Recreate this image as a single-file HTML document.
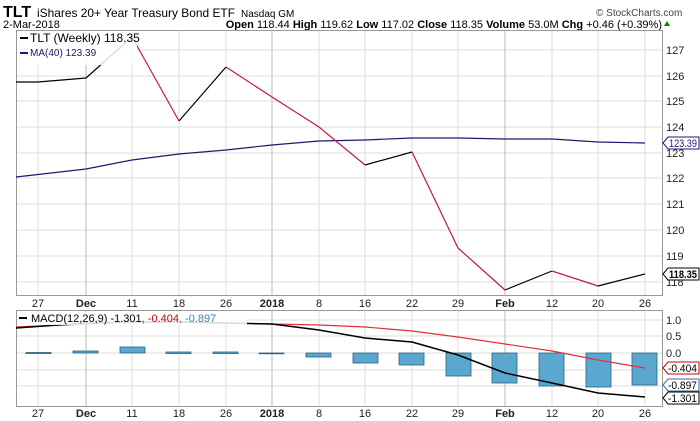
<!DOCTYPE html><html><head><style>body{margin:0;background:#fff}svg{display:block;font-family:"Liberation Sans",sans-serif}</style></head><body>
<svg width="700" height="421" viewBox="0 0 700 421" xmlns="http://www.w3.org/2000/svg">
<text x="3" y="17" font-size="16" font-weight="bold">TLT</text>
<text x="37" y="17" font-size="12" textLength="198" lengthAdjust="spacingAndGlyphs">iShares 20+ Year Treasury Bond ETF</text>
<text x="241" y="17" font-size="10">Nasdaq GM</text>
<text x="596" y="16" font-size="10" fill="#444">© StockCharts.com</text>
<text x="3" y="28" font-size="11">2-Mar-2018</text>
<text x="662" y="28" font-size="11" text-anchor="end"><tspan font-weight="bold">Open</tspan> 118.44 <tspan font-weight="bold">High</tspan> 119.62 <tspan font-weight="bold">Low</tspan> 117.02 <tspan font-weight="bold">Close</tspan> 118.35 <tspan font-weight="bold">Volume</tspan> 53.0M <tspan font-weight="bold">Chg</tspan> +0.46 (+0.39%)</text>
<path d="M664 26 l3 -5 l3 5z" fill="#080"/>
<g stroke="#ddd" stroke-width="1">
<path d="M38 31V296M86 31V296M132 31V296M179 31V296M226 31V296M272 31V296M319 31V296M365 31V296M412 31V296M458 31V296M505 31V296M552 31V296M598 31V296M645 31V296"/>
<path d="M16 50H663M16 76H663M16 101H663M16 127H663M16 153H663M16 178H663M16 204H663M16 230H663M16 256H663M16 282H663"/>
<path d="M38 311V406M86 311V406M132 311V406M179 311V406M226 311V406M272 311V406M319 311V406M365 311V406M412 311V406M458 311V406M505 311V406M552 311V406M598 311V406M645 311V406"/>
<path d="M16 320H663M16 336H663M16 353H663M16 370H663M16 386H663"/>
</g>
<path d="M86 31V296M272 31V296M505 31V296M86 311V406M272 311V406M505 311V406" stroke="#bbb"/>
<rect x="16.5" y="30.5" width="646" height="265" fill="none" stroke="#999"/>
<rect x="16.5" y="310.5" width="646" height="96" fill="none" stroke="#999"/>
<g font-size="11" fill="#222">
<text x="666" y="54">127</text><text x="666" y="80">126</text><text x="666" y="105">125</text><text x="666" y="131">124</text><text x="666" y="157">123</text><text x="666" y="182">122</text><text x="666" y="208">121</text><text x="666" y="234">120</text><text x="666" y="260">119</text><text x="666" y="286">118</text>
<text x="666" y="324">1.0</text><text x="666" y="340">0.5</text><text x="666" y="357">0.0</text>
</g>
<polyline points="16,177 86,169 132,160 179,154 226,150 272,145 319,141 365,140 412,138 458,138 505,139 552,139 598,142 645,143" fill="none" stroke="#1a1a6e" stroke-width="1.2"/>
<g fill="none" stroke-width="1.2">
<path d="M16 82L38 82L86 78L132 37" stroke="#000"/>
<path d="M132 37L179 121" stroke="#c8193c"/>
<path d="M179 121L226 67" stroke="#000"/>
<path d="M226 67L272 97L319 127L365 165" stroke="#c8193c"/>
<path d="M365 165L412 152" stroke="#000"/>
<path d="M412 152L458 248L505 290" stroke="#c8193c"/>
<path d="M505 290L552 271" stroke="#000"/>
<path d="M552 271L598 286" stroke="#c8193c"/>
<path d="M598 286L645 274" stroke="#000"/>
</g>
<rect x="17" y="31" width="120" height="34" fill="#fff" fill-opacity="0.85"/>
<path d="M20 38h8" stroke="#000" stroke-width="2"/><text x="30" y="42" font-size="12">TLT (Weekly) 118.35</text>
<path d="M20 53h8" stroke="#1a1a6e" stroke-width="2"/><text x="30" y="56" font-size="10" fill="#1a1a6e">MA(40) 123.39</text>
<path d="M663 143l5 -6h31v12h-31z" fill="#fff" stroke="#1a1a6e"/><text x="669" y="147" font-size="11" fill="#1a1a6e" textLength="28" lengthAdjust="spacingAndGlyphs">123.39</text>
<path d="M663 274l5 -6h31v12h-31z" fill="#fff" stroke="#000"/><text x="669" y="278" font-size="11" font-weight="bold" textLength="28" lengthAdjust="spacingAndGlyphs">118.35</text>
<g font-size="11" fill="#222" text-anchor="middle">
<text x="38" y="307">27</text><text x="86" y="307" font-weight="bold">Dec</text><text x="132" y="307">11</text><text x="179" y="307">18</text><text x="226" y="307">26</text><text x="272" y="307" font-weight="bold">2018</text><text x="319" y="307">8</text><text x="365" y="307">16</text><text x="412" y="307">22</text><text x="458" y="307">29</text><text x="505" y="307" font-weight="bold">Feb</text><text x="552" y="307">12</text><text x="598" y="307">20</text><text x="645" y="307">26</text>
<text x="38" y="417">27</text><text x="86" y="417" font-weight="bold">Dec</text><text x="132" y="417">11</text><text x="179" y="417">18</text><text x="226" y="417">26</text><text x="272" y="417" font-weight="bold">2018</text><text x="319" y="417">8</text><text x="365" y="417">16</text><text x="412" y="417">22</text><text x="458" y="417">29</text><text x="505" y="417" font-weight="bold">Feb</text><text x="552" y="417">12</text><text x="598" y="417">20</text><text x="645" y="417">26</text>
</g>
<g fill="#5aa8cf" stroke="#2a6080" stroke-width="0.8">
<rect x="26" y="352.5" width="25" height="1"/><rect x="73" y="351" width="25" height="2"/><rect x="120" y="347" width="25" height="6"/><rect x="166" y="352" width="25" height="1.5"/><rect x="213" y="352" width="25" height="1.5"/><rect x="259" y="353" width="25" height="0.8"/><rect x="306" y="353" width="25" height="4"/><rect x="353" y="353" width="25" height="10"/><rect x="399" y="353" width="25" height="12"/><rect x="446" y="353" width="25" height="23"/><rect x="492" y="353" width="25" height="30"/><rect x="539" y="353" width="25" height="33"/><rect x="586" y="353" width="25" height="34"/><rect x="632" y="353" width="25" height="32"/>
</g>
<polyline points="16,327 86,324 132,322 179,322 226,323 272,324 319,325 365,327 412,331 458,337 505,344 552,351 598,360 645,368" fill="none" stroke="#e0303a" stroke-width="1.2"/>
<polyline points="16,328 86,323 132,322 179,322 226,323 272,324 319,330 365,338 412,342 458,355 505,373 552,383 598,393 645,397" fill="none" stroke="#000" stroke-width="1.5"/>
<rect x="17" y="312" width="230" height="13" fill="#fff" fill-opacity="0.85"/>
<path d="M19 318h8" stroke="#000" stroke-width="2"/>
<text x="31" y="322" font-size="11">MACD(12,26,9) -1.301<tspan fill="#c00">, -0.404</tspan><tspan fill="#3a86b0">, -0.897</tspan></text>
<path d="M663 368l5 -6h31v12h-31z" fill="#fff" stroke="#c00"/><text x="668" y="372" font-size="11" textLength="29" lengthAdjust="spacingAndGlyphs">-0.404</text>
<path d="M663 385l5 -6h31v12h-31z" fill="#fff" stroke="#3a6e90"/><text x="668" y="389" font-size="11" textLength="29" lengthAdjust="spacingAndGlyphs">-0.897</text>
<path d="M663 398l5 -6h31v12h-31z" fill="#fff" stroke="#000"/><text x="668" y="402" font-size="11" textLength="29" lengthAdjust="spacingAndGlyphs">-1.301</text>
</svg></body></html>
